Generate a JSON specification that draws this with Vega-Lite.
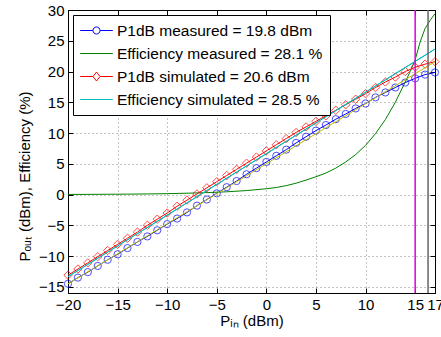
{
  "$schema": "https://vega.github.io/schema/vega-lite/v6.json",
  "width": 367,
  "height": 283,
  "autosize": "none",
  "padding": {"left": 68, "top": 10, "right": 6, "bottom": 44},
  "background": "white",
  "config": {
    "view": {"stroke": "black", "strokeWidth": 1},
    "axis": {
      "labelFont": "Liberation Sans", "labelFontSize": 15, "labelColor": "black",
      "titleFont": "Liberation Sans", "titleFontSize": 15, "titleFontWeight": "normal", "titleColor": "black",
      "domainColor": "black", "tickColor": "black", "tickSize": -5, "labelPadding": 9,
      "gridColor": "#888888", "gridDash": [1, 3], "gridWidth": 1,
      "labelFlush": false, "labelOverlap": false, "labelBound": false
    }
  },
  "datasets": {
    "main": [
      {"series": "P1dB measured = 19.8 dBm", "x": -20, "y": -14.5},
      {"series": "P1dB measured = 19.8 dBm", "x": -19, "y": -13.5},
      {"series": "P1dB measured = 19.8 dBm", "x": -18, "y": -12.6},
      {"series": "P1dB measured = 19.8 dBm", "x": -17, "y": -11.6},
      {"series": "P1dB measured = 19.8 dBm", "x": -16, "y": -10.6},
      {"series": "P1dB measured = 19.8 dBm", "x": -15, "y": -9.7},
      {"series": "P1dB measured = 19.8 dBm", "x": -14, "y": -8.7},
      {"series": "P1dB measured = 19.8 dBm", "x": -13, "y": -7.7},
      {"series": "P1dB measured = 19.8 dBm", "x": -12, "y": -6.8},
      {"series": "P1dB measured = 19.8 dBm", "x": -11, "y": -5.8},
      {"series": "P1dB measured = 19.8 dBm", "x": -10, "y": -4.8},
      {"series": "P1dB measured = 19.8 dBm", "x": -9, "y": -3.9},
      {"series": "P1dB measured = 19.8 dBm", "x": -8, "y": -2.9},
      {"series": "P1dB measured = 19.8 dBm", "x": -7, "y": -1.8},
      {"series": "P1dB measured = 19.8 dBm", "x": -6, "y": -0.8},
      {"series": "P1dB measured = 19.8 dBm", "x": -5, "y": 0.2},
      {"series": "P1dB measured = 19.8 dBm", "x": -4, "y": 1.2},
      {"series": "P1dB measured = 19.8 dBm", "x": -3, "y": 2.2},
      {"series": "P1dB measured = 19.8 dBm", "x": -2, "y": 3.3},
      {"series": "P1dB measured = 19.8 dBm", "x": -1, "y": 4.3},
      {"series": "P1dB measured = 19.8 dBm", "x": 0, "y": 5.3},
      {"series": "P1dB measured = 19.8 dBm", "x": 1, "y": 6.3},
      {"series": "P1dB measured = 19.8 dBm", "x": 2, "y": 7.3},
      {"series": "P1dB measured = 19.8 dBm", "x": 3, "y": 8.4},
      {"series": "P1dB measured = 19.8 dBm", "x": 4, "y": 9.4},
      {"series": "P1dB measured = 19.8 dBm", "x": 5, "y": 10.4},
      {"series": "P1dB measured = 19.8 dBm", "x": 6, "y": 11.3},
      {"series": "P1dB measured = 19.8 dBm", "x": 7, "y": 12.25},
      {"series": "P1dB measured = 19.8 dBm", "x": 8, "y": 13.1},
      {"series": "P1dB measured = 19.8 dBm", "x": 9, "y": 14.0},
      {"series": "P1dB measured = 19.8 dBm", "x": 10, "y": 14.8},
      {"series": "P1dB measured = 19.8 dBm", "x": 11, "y": 15.8},
      {"series": "P1dB measured = 19.8 dBm", "x": 12, "y": 16.6},
      {"series": "P1dB measured = 19.8 dBm", "x": 13, "y": 17.4},
      {"series": "P1dB measured = 19.8 dBm", "x": 14, "y": 18.2},
      {"series": "P1dB measured = 19.8 dBm", "x": 15, "y": 18.9},
      {"series": "P1dB measured = 19.8 dBm", "x": 16, "y": 19.5},
      {"series": "P1dB measured = 19.8 dBm", "x": 17, "y": 19.85},
      {"series": "Efficiency measured = 28.1 %", "x": -20, "y": 0.02},
      {"series": "Efficiency measured = 28.1 %", "x": -18, "y": 0.03},
      {"series": "Efficiency measured = 28.1 %", "x": -16, "y": 0.05},
      {"series": "Efficiency measured = 28.1 %", "x": -14, "y": 0.07},
      {"series": "Efficiency measured = 28.1 %", "x": -12, "y": 0.1},
      {"series": "Efficiency measured = 28.1 %", "x": -10, "y": 0.15},
      {"series": "Efficiency measured = 28.1 %", "x": -8, "y": 0.22},
      {"series": "Efficiency measured = 28.1 %", "x": -6, "y": 0.32},
      {"series": "Efficiency measured = 28.1 %", "x": -4, "y": 0.45},
      {"series": "Efficiency measured = 28.1 %", "x": -2, "y": 0.65},
      {"series": "Efficiency measured = 28.1 %", "x": 0, "y": 0.95},
      {"series": "Efficiency measured = 28.1 %", "x": 1, "y": 1.15},
      {"series": "Efficiency measured = 28.1 %", "x": 2, "y": 1.45},
      {"series": "Efficiency measured = 28.1 %", "x": 3, "y": 1.85},
      {"series": "Efficiency measured = 28.1 %", "x": 4, "y": 2.35},
      {"series": "Efficiency measured = 28.1 %", "x": 5, "y": 2.9},
      {"series": "Efficiency measured = 28.1 %", "x": 6, "y": 3.5},
      {"series": "Efficiency measured = 28.1 %", "x": 7, "y": 4.3},
      {"series": "Efficiency measured = 28.1 %", "x": 8, "y": 5.3},
      {"series": "Efficiency measured = 28.1 %", "x": 9, "y": 6.5},
      {"series": "Efficiency measured = 28.1 %", "x": 10, "y": 8.0},
      {"series": "Efficiency measured = 28.1 %", "x": 11, "y": 9.9},
      {"series": "Efficiency measured = 28.1 %", "x": 12, "y": 12.2},
      {"series": "Efficiency measured = 28.1 %", "x": 13, "y": 15.0},
      {"series": "Efficiency measured = 28.1 %", "x": 14, "y": 18.3},
      {"series": "Efficiency measured = 28.1 %", "x": 14.5, "y": 20.0},
      {"series": "Efficiency measured = 28.1 %", "x": 15, "y": 21.9},
      {"series": "Efficiency measured = 28.1 %", "x": 15.5, "y": 24.8},
      {"series": "Efficiency measured = 28.1 %", "x": 16, "y": 27.0},
      {"series": "Efficiency measured = 28.1 %", "x": 16.5, "y": 28.3},
      {"series": "Efficiency measured = 28.1 %", "x": 17, "y": 29.4},
      {"series": "P1dB simulated = 20.6 dBm", "x": -20, "y": -13.1},
      {"series": "P1dB simulated = 20.6 dBm", "x": -19, "y": -12.1},
      {"series": "P1dB simulated = 20.6 dBm", "x": -18, "y": -11.1},
      {"series": "P1dB simulated = 20.6 dBm", "x": -17, "y": -10.1},
      {"series": "P1dB simulated = 20.6 dBm", "x": -16, "y": -9.1},
      {"series": "P1dB simulated = 20.6 dBm", "x": -15, "y": -8.1},
      {"series": "P1dB simulated = 20.6 dBm", "x": -14, "y": -7.1},
      {"series": "P1dB simulated = 20.6 dBm", "x": -13, "y": -6.1},
      {"series": "P1dB simulated = 20.6 dBm", "x": -12, "y": -5.0},
      {"series": "P1dB simulated = 20.6 dBm", "x": -11, "y": -4.0},
      {"series": "P1dB simulated = 20.6 dBm", "x": -10, "y": -3.0},
      {"series": "P1dB simulated = 20.6 dBm", "x": -9, "y": -1.9},
      {"series": "P1dB simulated = 20.6 dBm", "x": -8, "y": -0.9},
      {"series": "P1dB simulated = 20.6 dBm", "x": -7, "y": 0.1},
      {"series": "P1dB simulated = 20.6 dBm", "x": -6, "y": 1.1},
      {"series": "P1dB simulated = 20.6 dBm", "x": -5, "y": 2.1},
      {"series": "P1dB simulated = 20.6 dBm", "x": -4, "y": 3.1},
      {"series": "P1dB simulated = 20.6 dBm", "x": -3, "y": 4.1},
      {"series": "P1dB simulated = 20.6 dBm", "x": -2, "y": 5.1},
      {"series": "P1dB simulated = 20.6 dBm", "x": -1, "y": 6.1},
      {"series": "P1dB simulated = 20.6 dBm", "x": 0, "y": 7.1},
      {"series": "P1dB simulated = 20.6 dBm", "x": 1, "y": 8.1},
      {"series": "P1dB simulated = 20.6 dBm", "x": 2, "y": 9.1},
      {"series": "P1dB simulated = 20.6 dBm", "x": 3, "y": 10.1},
      {"series": "P1dB simulated = 20.6 dBm", "x": 4, "y": 11.0},
      {"series": "P1dB simulated = 20.6 dBm", "x": 5, "y": 11.9},
      {"series": "P1dB simulated = 20.6 dBm", "x": 6, "y": 12.8},
      {"series": "P1dB simulated = 20.6 dBm", "x": 7, "y": 13.7},
      {"series": "P1dB simulated = 20.6 dBm", "x": 8, "y": 14.6},
      {"series": "P1dB simulated = 20.6 dBm", "x": 9, "y": 15.5},
      {"series": "P1dB simulated = 20.6 dBm", "x": 10, "y": 16.4},
      {"series": "P1dB simulated = 20.6 dBm", "x": 11, "y": 17.4},
      {"series": "P1dB simulated = 20.6 dBm", "x": 12, "y": 18.3},
      {"series": "P1dB simulated = 20.6 dBm", "x": 13, "y": 19.1},
      {"series": "P1dB simulated = 20.6 dBm", "x": 14, "y": 20.0},
      {"series": "P1dB simulated = 20.6 dBm", "x": 15, "y": 20.7},
      {"series": "P1dB simulated = 20.6 dBm", "x": 16, "y": 21.2},
      {"series": "P1dB simulated = 20.6 dBm", "x": 17, "y": 21.6},
      {"series": "Efficiency simulated = 28.5 %", "x": -20, "y": -13.35},
      {"series": "Efficiency simulated = 28.5 %", "x": 17, "y": 23.65}
    ],
    "linfit": [
      {"x": -20, "y": -14.5},
      {"x": 17, "y": 21.6}
    ],
    "markers": [
      {"x": 15, "kind": "P1dB input"},
      {"x": 16.3, "kind": "P1dB sim input"}
    ]
  },
  "layer": [
    {
      "data": {"name": "main"},
      "mark": {"type": "line", "strokeWidth": 1},
      "encoding": {
        "x": {"field": "x", "type": "quantitative",
          "scale": {"domain": [-20, 17], "nice": false, "zero": false},
          "axis": {"values": [-20, -15, -10, -5, 0, 5, 10, 15, 17], "title": "Pᵢₙ (dBm)", "grid": true, "titlePadding": 1}},
        "y": {"field": "y", "type": "quantitative",
          "scale": {"domain": [-16, 30], "nice": false, "zero": false},
          "axis": {"values": [-15, -10, -5, 0, 5, 10, 15, 20, 25, 30], "title": "Pₒᵤₜ (dBm), Efficiency (%)", "grid": true, "titlePadding": 6, "titleY": 166}},
        "color": {"field": "series", "type": "nominal",
          "scale": {"domain": ["P1dB measured = 19.8 dBm", "Efficiency measured = 28.1 %", "P1dB simulated = 20.6 dBm", "Efficiency simulated = 28.5 %"],
                    "range": ["#0000ff", "#008000", "#ff0000", "#00bfbf"]},
          "legend": {
            "orient": "top-left", "offset": 5, "title": null, "padding": 7,
            "strokeColor": "black", "fillColor": "white",
            "labelFont": "Liberation Sans", "labelFontSize": 15.5, "labelColor": "black", "labelBaseline": "middle", "labelLimit": 0,
            "symbolSize": 256, "symbolStrokeWidth": 1, "symbolOffset": 8, "labelOffset": 12, "rowPadding": 6,
            "encode": {"symbols": {"update": {
              "shape": {"signal": "indexof(datum.value, 'P1dB measured') == 0 ? 'M-2.04,0H-0.44M0.44,0H2.04M0.44,0A0.44,0.44 0 1,1 -0.44,0A0.44,0.44 0 1,1 0.44,0Z' : indexof(datum.value, 'P1dB simulated') == 0 ? 'M-2.04,0H-0.44M0.44,0H2.04M0,-0.56L0.44,0L0,0.56L-0.44,0Z' : 'M-2.04,0H2.04'"},
              "fill": {"value": "white"}, "fillOpacity": {"value": 1}
            }}}
          }}
      }
    },
    {
      "data": {"name": "main"},
      "transform": [{"filter": "datum.series == 'P1dB measured = 19.8 dBm'"}],
      "mark": {"type": "point", "shape": "circle", "filled": false, "color": "#0000ff", "size": 52, "strokeWidth": 1},
      "encoding": {"x": {"field": "x", "type": "quantitative", "axis": null}, "y": {"field": "y", "type": "quantitative", "axis": null}}
    },
    {
      "data": {"name": "main"},
      "transform": [{"filter": "datum.series == 'P1dB simulated = 20.6 dBm'"}],
      "mark": {"type": "point", "shape": "diamond", "filled": false, "color": "#ff0000", "size": 70, "strokeWidth": 1},
      "encoding": {"x": {"field": "x", "type": "quantitative", "axis": null}, "y": {"field": "y", "type": "quantitative", "axis": null}}
    },
    {
      "data": {"name": "main"},
      "transform": [{"filter": "datum.series == 'Efficiency simulated = 28.5 %'"}],
      "mark": {"type": "line", "color": "#00bfbf", "strokeWidth": 1},
      "encoding": {"x": {"field": "x", "type": "quantitative", "axis": null}, "y": {"field": "y", "type": "quantitative", "axis": null}}
    },
    {
      "data": {"name": "linfit"},
      "mark": {"type": "line", "color": "#bfbf00", "strokeWidth": 1},
      "encoding": {
        "x": {"field": "x", "type": "quantitative", "axis": {"orient": "top", "values": [-20, -15, -10, -5, 0, 5, 10, 15, 17], "labels": false, "grid": false, "title": null}},
        "y": {"field": "y", "type": "quantitative", "axis": {"orient": "right", "values": [-15, -10, -5, 0, 5, 10, 15, 20, 25, 30], "labels": false, "grid": false, "title": null}}
      }
    },
    {
      "data": {"name": "markers"},
      "transform": [{"filter": "datum.kind == 'P1dB input'"}],
      "mark": {"type": "rule", "color": "#e000e0", "strokeWidth": 1.5},
      "encoding": {"x": {"field": "x", "type": "quantitative", "axis": null}}
    },
    {
      "data": {"name": "markers"},
      "transform": [{"filter": "datum.kind == 'P1dB sim input'"}],
      "mark": {"type": "rule", "color": "#666666", "strokeWidth": 1.5},
      "encoding": {"x": {"field": "x", "type": "quantitative", "axis": null}}
    }
  ],
  "resolve": {"axis": {"x": "independent", "y": "independent"}}
}
